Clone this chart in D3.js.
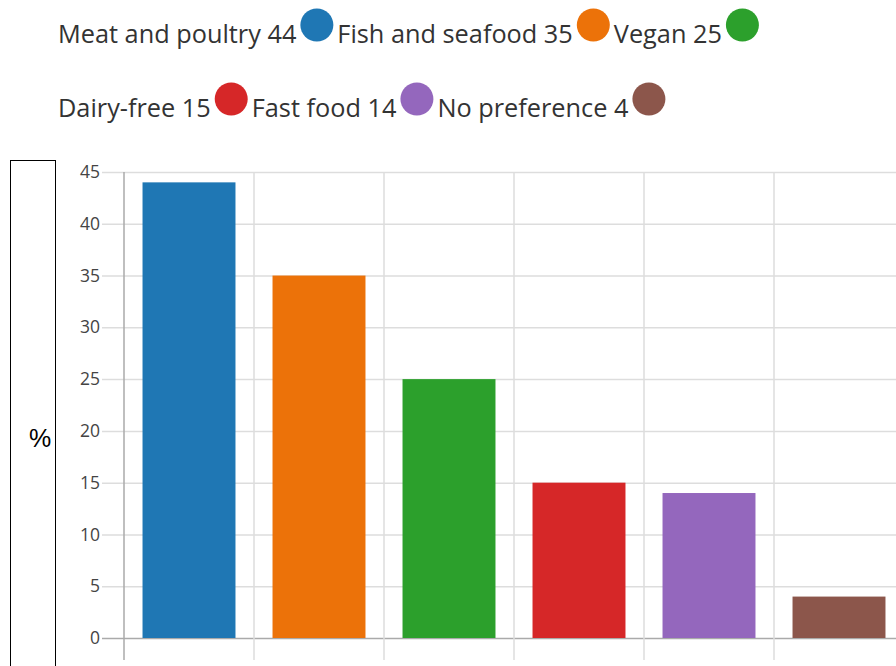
<!DOCTYPE html>
<html>
<head>
<meta charset="utf-8">
<title>Food preferences</title>
<script src="https://d3js.org/d3.v7.min.js"></script>
<style>
  body { margin: 0; background: #fff; }
  svg { display: block; }
</style>
</head>
<body>
<svg id="chart" width="896" height="666"></svg>
<script>
const categories = ["Meat and poultry", "Fish and seafood", "Vegan", "Dairy-free", "Fast food", "No preference"];
const values = [44, 35, 25, 15, 14, 4];
const colors = ["#1f77b4", "#ec7209", "#2ca02c", "#d62728", "#9467bd", "#8c564b"];
const yTicks = [0, 5, 10, 15, 20, 25, 30, 35, 40, 45];
const legendRows = [[0, 1, 2], [3, 4, 5]];

const svg = d3.select("#chart");

// legend: text followed by a dot, flowing in two rows
const legend = svg.append("g").attr("font-family", "Open Sans, sans-serif").attr("font-size", 25.3);
legendRows.forEach((row, r) => {
  let cx = 58;
  const base = r === 0 ? 43 : 117;
  row.forEach(i => {
    const t = legend.append("text")
      .attr("x", cx).attr("y", base)
      .attr("fill", "#333")
      .text(categories[i] + " " + values[i]);
    const w = t.node().getComputedTextLength();
    cx += w + 4;
    legend.append("circle")
      .attr("cx", cx + 16.5).attr("cy", base - 18)
      .attr("r", 16.5)
      .attr("fill", colors[i]);
    cx += 33 + 4;
  });
});

// left box with the unit
svg.append("rect")
  .attr("x", 10.5).attr("y", 160.5)
  .attr("width", 45).attr("height", 520)
  .attr("fill", "none").attr("stroke", "#000");
svg.append("text")
  .attr("x", 40).attr("y", 447)
  .attr("text-anchor", "middle")
  .attr("font-family", "Liberation Sans, Arial, sans-serif")
  .attr("font-size", 25)
  .text("%");

const x = d3.scaleBand()
  .domain(categories)
  .range([124, 904])
  .paddingInner(0.285)
  .paddingOuter(0.1425);

const y = d3.scaleLinear().domain([0, 45]).range([638, 172]);

const plot = svg.append("g");

// horizontal grid + y labels
const yAxis = plot.append("g")
  .attr("transform", "translate(124,0)")
  .call(d3.axisLeft(y).tickValues(yTicks).tickSize(-800).tickPadding(24).tickSizeOuter(0));
yAxis.select(".domain").remove();
yAxis.selectAll(".tick line")
  .attr("x1", -22)
  .attr("stroke", "#ddd").attr("stroke-width", 1.5);
yAxis.selectAll(".tick text")
  .attr("font-family", "Open Sans, sans-serif")
  .attr("font-size", 17.5)
  .attr("fill", "#444");
yAxis.selectAll(".tick").filter(d => d === 0).select("line").attr("stroke", "#aaa");

// vertical grid at the band boundaries
const bounds = categories.map(c => x(c) - (x.step() - x.bandwidth()) / 2);
plot.append("g").selectAll("line")
  .data(bounds)
  .join("line")
  .attr("x1", d => d).attr("x2", d => d)
  .attr("y1", y(45)).attr("y2", 660)
  .attr("stroke", (d, i) => i === 0 ? "#aaa" : "#ddd")
  .attr("stroke-width", 1.5);

// bars
plot.append("g").selectAll("rect")
  .data(values)
  .join("rect")
  .attr("x", (d, i) => x(categories[i]))
  .attr("y", d => y(d))
  .attr("width", x.bandwidth())
  .attr("height", d => y(0) - y(d))
  .attr("fill", (d, i) => colors[i]);
</script>
</body>
</html>
